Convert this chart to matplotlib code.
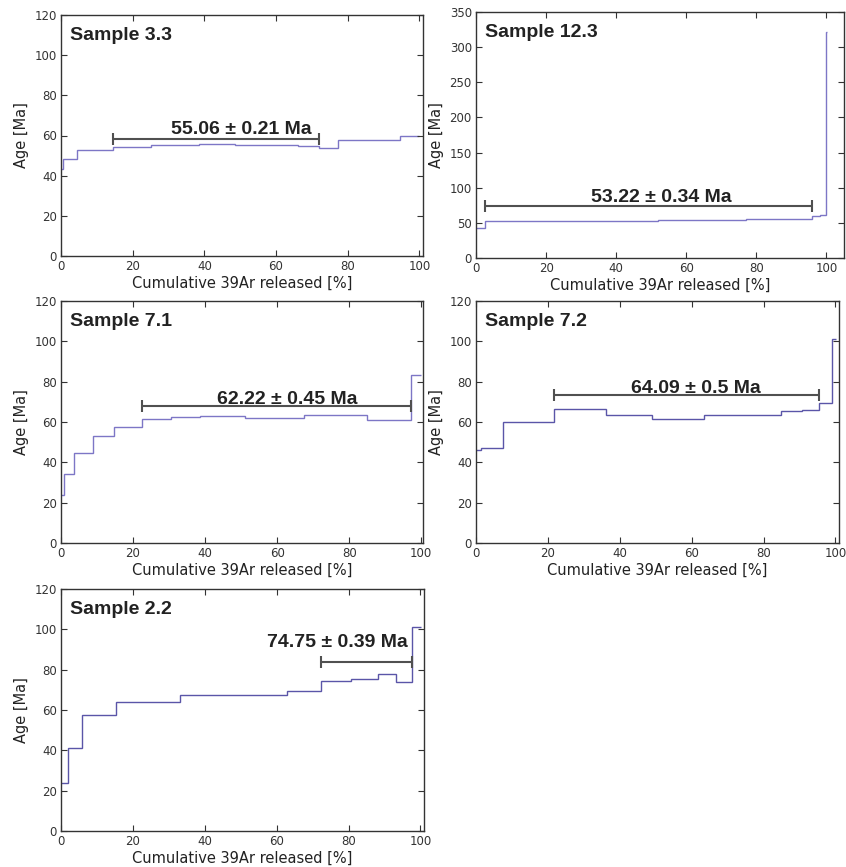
import matplotlib
matplotlib.use("Agg")
import matplotlib.pyplot as plt

# step spectra: edges = cumulative 39Ar released [%], ages in Ma
s33_edges = [0, 0.65, 4.55, 14.4, 25.0, 38.5, 48.6, 58.3, 66.2, 72.0, 77.4, 94.6, 100]
s33_ages = [43.5, 48.3, 52.7, 54.2, 55.2, 55.8, 55.4, 55.2, 54.9, 54.0, 57.9, 59.8]

s123_edges = [0, 2.7, 35, 52, 77, 92, 95.8, 98.1, 100, 100.15]
s123_ages = [42.5, 52.5, 53.3, 54.2, 55.0, 56.0, 59.8, 61.3, 322]

s71_edges = [0, 0.8, 3.5, 8.8, 14.8, 22.4, 30.5, 38.5, 51.2, 67.5, 84.9, 97.2, 100]
s71_ages = [23.6, 34.0, 44.6, 52.9, 57.7, 61.3, 62.5, 63.0, 62.1, 63.6, 61.0, 83.1]

s72_edges = [0, 1.4, 7.5, 21.6, 36.2, 49.1, 63.4, 84.9, 90.6, 95.3, 99.0, 100.2]
s72_ages = [46.3, 46.9, 60.2, 66.4, 63.3, 61.7, 63.5, 65.3, 65.9, 69.6, 101.0]

s22_edges = [0, 1.9, 5.9, 15.2, 33.0, 62.9, 72.4, 80.8, 88.1, 93.3, 97.7, 100.2]
s22_ages = [23.8, 41.2, 57.7, 63.8, 67.5, 69.3, 74.5, 75.4, 77.8, 73.9, 101.2]

samples = ["Sample 3.3", "Sample 12.3", "Sample 7.1", "Sample 7.2", "Sample 2.2"]
all_edges = [s33_edges, s123_edges, s71_edges, s72_edges, s22_edges]
all_ages = [s33_ages, s123_ages, s71_ages, s72_ages, s22_ages]

# plateau ages: start %, end %, bar level, label
plat_start = [14.4, 2.7, 22.4, 21.6, 72.4]
plat_end = [72.0, 95.8, 97.2, 95.3, 97.7]
plat_level = [58.5, 73.6, 67.9, 73.4, 84.0]
plat_labels = ["55.06 ± 0.21 Ma", "53.22 ± 0.34 Ma", "62.22 ± 0.45 Ma",
               "64.09 ± 0.5 Ma", "74.75 ± 0.39 Ma"]
label_x = [50.4, 52.9, 62.8, 61.3, 76.9]
label_y = [60.6, 79.9, 69.1, 74.4, 91.2]

ymax = [120, 350, 120, 120, 120]
ystep = [20, 50, 20, 20, 20]
xmax = [101, 105, 100.5, 101, 101]
line_cols = ["#7d76c6", "#7d76c6", "#7d76c6", "#5a55a8", "#5a55a8"]

# axes boxes in pixels (left, top, right, bottom)
W, H = 846, 867
boxes = [(61, 15, 423, 256), (476, 12, 844, 258), (61, 301, 423, 543),
         (476, 301, 839, 543), (61, 589, 424, 831)]

fig = plt.figure(figsize=(W / 100, H / 100), dpi=100)

for i in range(5):
    l, t, r, b = boxes[i]
    ax = fig.add_axes([l / W, 1 - b / H, (r - l) / W, (b - t) / H])
    ax.stairs(all_ages[i], all_edges[i], baseline=None, color=line_cols[i], lw=1.0)

    c = (plat_start[i] + plat_end[i]) / 2
    hw = (plat_end[i] - plat_start[i]) / 2
    ax.errorbar(c, plat_level[i], xerr=hw, fmt="none", ecolor="#505050",
                elinewidth=1.5, capsize=4.5, capthick=1.5)
    ax.text(label_x[i], label_y[i], plat_labels[i], ha="center", va="baseline",
            fontsize=14, fontweight="bold", family="Liberation Sans", color="#222222")
    ax.text(0.025, 0.95, samples[i], transform=ax.transAxes, ha="left", va="top",
            fontsize=14, fontweight="bold", family="Liberation Sans", color="#222222")

    ax.set_xlim(0, xmax[i])
    ax.set_ylim(0, ymax[i])
    ax.set_xticks(range(0, 101, 20))
    ax.set_yticks(range(0, ymax[i] + 1, ystep[i]))
    ax.tick_params(direction="in", top=True, right=True, length=4, width=0.8,
                   labelsize=8.5, colors="#333333", pad=3)
    for sp in ax.spines.values():
        sp.set_color("#333333")
        sp.set_linewidth(1.0)
    ax.set_xlabel("Cumulative 39Ar released [%]", fontsize=10.5, color="#222222", labelpad=2)
    ax.set_ylabel("Age [Ma]", fontsize=10.5, color="#222222", labelpad=4)

fig.savefig("out.png", dpi=100)
